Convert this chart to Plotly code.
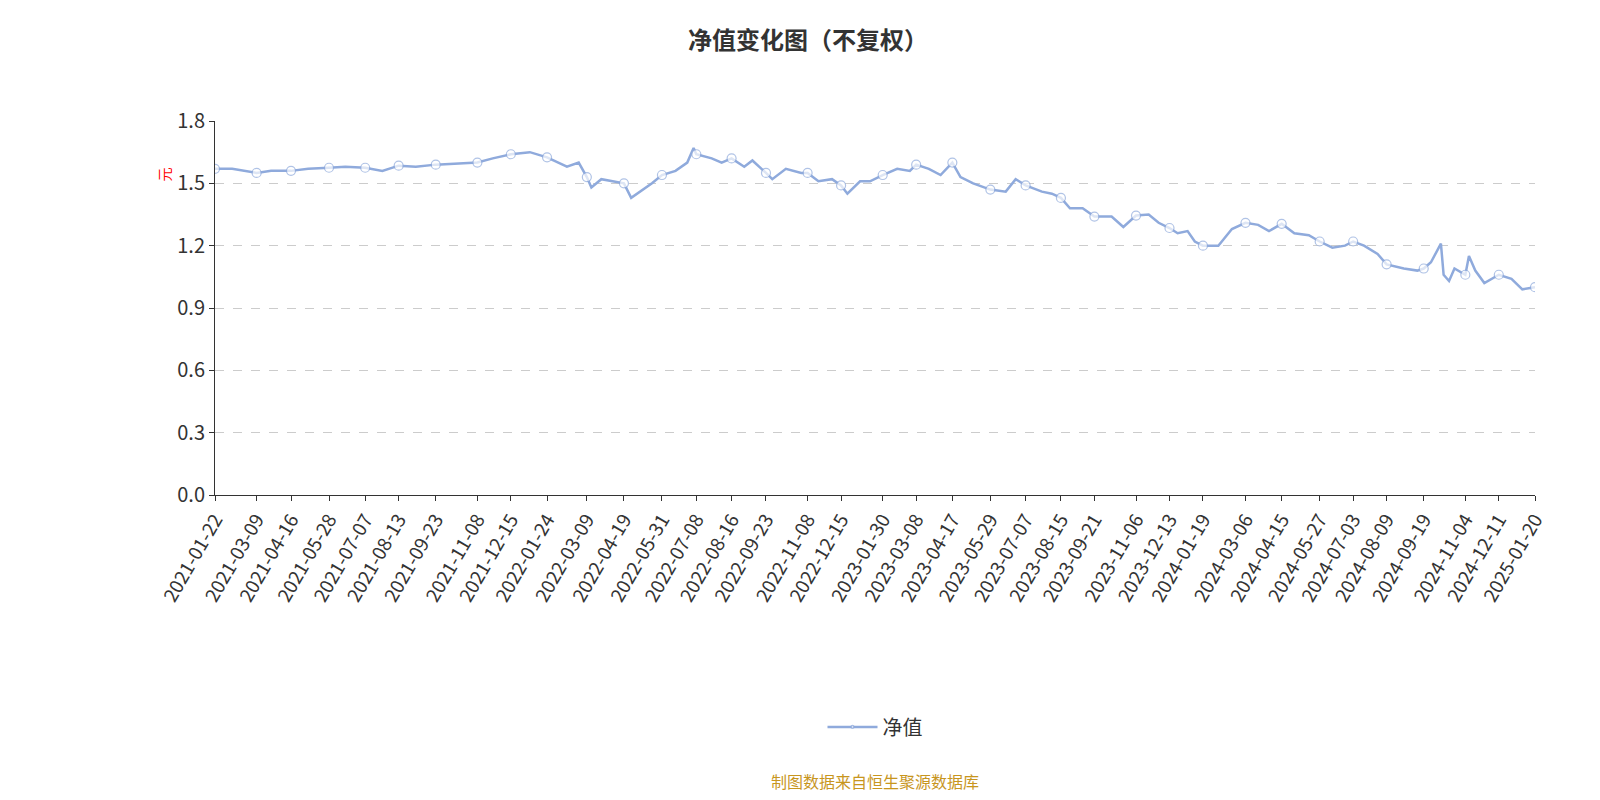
import plotly.graph_objects as go

dates = ["2021-01-22","2021-02-10","2021-03-09","2021-03-25","2021-04-16","2021-05-05","2021-05-28","2021-06-15",
"2021-07-07","2021-07-26","2021-08-13","2021-09-01","2021-09-23","2021-10-15","2021-11-08","2021-11-25",
"2021-12-15","2022-01-05","2022-01-24","2022-02-15","2022-02-28","2022-03-09","2022-03-14","2022-03-25",
"2022-04-08","2022-04-19","2022-04-27","2022-05-10","2022-05-20","2022-05-31","2022-06-15","2022-06-28",
"2022-07-05","2022-07-08","2022-07-25","2022-08-05","2022-08-16","2022-08-30","2022-09-08","2022-09-23",
"2022-09-30","2022-10-15","2022-11-01","2022-11-08","2022-11-20","2022-12-05","2022-12-15","2022-12-22",
"2023-01-05","2023-01-16","2023-01-30","2023-02-15","2023-03-01","2023-03-08","2023-03-22","2023-04-04",
"2023-04-17","2023-04-26","2023-05-10","2023-05-29","2023-06-15","2023-06-26","2023-07-07","2023-07-25",
"2023-08-05","2023-08-15","2023-08-25","2023-09-08","2023-09-21","2023-10-10","2023-10-23","2023-11-06",
"2023-11-20","2023-12-01","2023-12-13","2023-12-22","2024-01-02","2024-01-10","2024-01-19","2024-02-05",
"2024-02-20","2024-03-06","2024-03-20","2024-04-01","2024-04-15","2024-04-29","2024-05-15","2024-05-27",
"2024-06-10","2024-06-24","2024-07-03","2024-07-15","2024-07-30","2024-08-09","2024-08-28","2024-09-12",
"2024-09-19","2024-09-27","2024-10-08","2024-10-11","2024-10-17","2024-10-23","2024-11-04","2024-11-08",
"2024-11-15","2024-11-25","2024-12-11","2024-12-25","2025-01-06","2025-01-20"]
values = [1.57,1.57,1.55,1.56,1.56,1.57,1.575,1.58,1.575,1.56,1.585,1.58,1.59,1.595,1.60,1.62,
1.64,1.65,1.625,1.58,1.60,1.53,1.48,1.52,1.51,1.50,1.43,1.47,1.50,1.54,1.56,1.60,
1.67,1.64,1.62,1.60,1.62,1.58,1.61,1.55,1.52,1.57,1.55,1.55,1.51,1.52,1.49,1.45,
1.51,1.51,1.54,1.57,1.56,1.59,1.57,1.54,1.60,1.53,1.50,1.47,1.46,1.52,1.49,1.46,
1.45,1.43,1.38,1.38,1.34,1.34,1.29,1.345,1.35,1.31,1.285,1.26,1.27,1.22,1.20,1.20,
1.28,1.31,1.30,1.27,1.305,1.26,1.25,1.22,1.19,1.20,1.22,1.20,1.16,1.11,1.09,1.08,
1.09,1.12,1.21,1.06,1.03,1.09,1.06,1.15,1.08,1.02,1.06,1.04,0.99,1.00]

tick_dates = ["2021-01-22","2021-03-09","2021-04-16","2021-05-28","2021-07-07","2021-08-13","2021-09-23",
"2021-11-08","2021-12-15","2022-01-24","2022-03-09","2022-04-19","2022-05-31","2022-07-08","2022-08-16",
"2022-09-23","2022-11-08","2022-12-15","2023-01-30","2023-03-08","2023-04-17","2023-05-29","2023-07-07",
"2023-08-15","2023-09-21","2023-11-06","2023-12-13","2024-01-19","2024-03-06","2024-04-15","2024-05-27",
"2024-07-03","2024-08-09","2024-09-19","2024-11-04","2024-12-11","2025-01-20"]

sizes = [9 if d in tick_dates else 0 for d in dates]

fig = go.Figure()
fig.add_trace(go.Scatter(
    x=dates, y=values, name="净值", mode="lines+markers",
    line=dict(color="#8faadc", width=2.5),
    marker=dict(size=sizes, color="white", line=dict(color="#8faadc", width=1.2)),
))
fig.update_layout(
    width=1600, height=800, paper_bgcolor="white", plot_bgcolor="white",
    font=dict(family="Noto Sans CJK SC", color="#333"),
    title=dict(text="<b>净值变化图（不复权）</b>", x=0.5, y=0.97, font=dict(size=24)),
    margin=dict(l=207, r=73, t=113, b=313),
    showlegend=True,
    legend=dict(orientation="h", x=0.5, xanchor="center", y=-0.62, yanchor="middle",
                font=dict(size=20), itemwidth=50),
    annotations=[
        dict(text="制图数据来自恒生聚源数据库", x=0.5, xref="paper", y=-0.765, yref="paper",
             yanchor="middle", showarrow=False, font=dict(size=16, color="#c8961e")),
        dict(text="元", x=-0.048, xref="paper", y=0.88, yref="paper", textangle=-90,
             showarrow=False, font=dict(size=14, color="red")),
    ],
)
fig.update_xaxes(type="date", range=["2021-01-22", "2025-01-20"], tickvals=tick_dates, ticktext=tick_dates,
                 tickangle=-60, tickfont=dict(size=19), showgrid=False, showline=True, linecolor="#333",
                 ticks="outside", tickcolor="#333")
fig.update_yaxes(range=[0, 1.8], dtick=0.3, tickformat=".1f", tickfont=dict(size=20),
                 showgrid=True, gridcolor="#ccc", griddash="dash", zeroline=False,
                 showline=True, linecolor="#333", ticks="outside", tickcolor="#333")
fig.write_html("out.html")
